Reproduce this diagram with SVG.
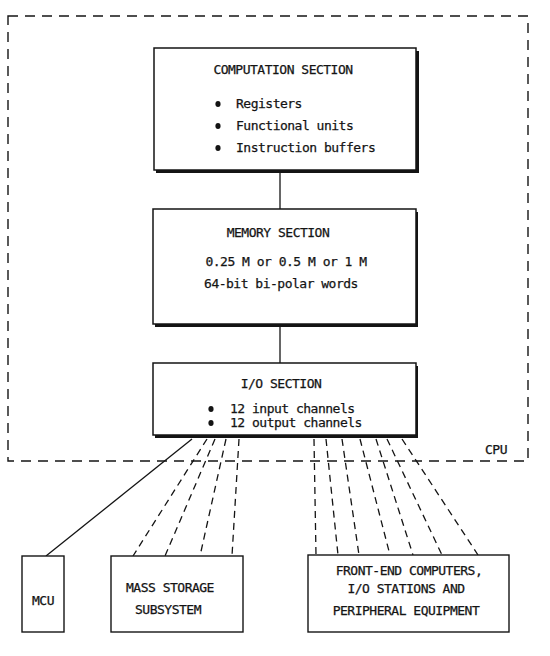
<svg xmlns="http://www.w3.org/2000/svg" width="550" height="656" viewBox="0 0 550 656">
<style>
  .bg { fill: #ffffff; }
  .shadow { fill: #141414; }
  .box { fill: #ffffff; stroke: #141414; stroke-width: 1.5; }
  .plain { fill: #ffffff; stroke: #141414; stroke-width: 1.4; }
  .cpu { fill: none; stroke: #141414; stroke-width: 1.4; stroke-dasharray: 10 7; }
  .solid { stroke: #141414; stroke-width: 1.3; fill: none; }
  .dash { stroke: #141414; stroke-width: 1.3; fill: none; stroke-dasharray: 7 5; }
  .t { font-family: "DejaVu Sans Mono", "Liberation Mono", monospace; font-size: 13px; letter-spacing: -0.5px; fill: #141414; stroke: #141414; stroke-width: 0.25; }
  .c { text-anchor: middle; }
  .dot { fill: #141414; }
</style>
<rect class="bg" x="0" y="0" width="550" height="656"/>

<g id="cpu-boundary">
  <path class="cpu" d="M8,16 L528,16 L528,461 L8,461 Z"/>
  <text class="t c" x="496" y="454">CPU</text>
</g>

<g id="connectors">
  <line class="solid" x1="280" y1="173" x2="280" y2="209"/>
  <line class="solid" x1="280" y1="327" x2="280" y2="363"/>
  <line class="solid" x1="192" y1="439" x2="46" y2="556"/>
  <line class="dash" x1="207" y1="439" x2="133" y2="556"/>
  <line class="dash" x1="215" y1="439" x2="165" y2="556"/>
  <line class="dash" x1="226" y1="439" x2="200" y2="556"/>
  <line class="dash" x1="239" y1="439" x2="232" y2="556"/>
  <line class="dash" x1="314" y1="439" x2="316" y2="555"/>
  <line class="dash" x1="326" y1="439" x2="338" y2="555"/>
  <line class="dash" x1="342" y1="439" x2="359" y2="555"/>
  <line class="dash" x1="360" y1="439" x2="390" y2="555"/>
  <line class="dash" x1="376" y1="439" x2="413" y2="555"/>
  <line class="dash" x1="387" y1="439" x2="442" y2="555"/>
  <line class="dash" x1="402" y1="439" x2="478" y2="555"/>
</g>

<g id="computation-section">
  <rect class="shadow" x="156" y="51" width="263" height="122"/>
  <rect class="box" x="154" y="48" width="262" height="122"/>
  <text class="t c" x="283" y="74">COMPUTATION SECTION</text>
  <ellipse class="dot" cx="218" cy="104" rx="2.6" ry="3"/>
  <ellipse class="dot" cx="218" cy="126" rx="2.6" ry="3"/>
  <ellipse class="dot" cx="218" cy="148" rx="2.6" ry="3"/>
  <text class="t" x="236" y="108">Registers</text>
  <text class="t" x="236" y="130">Functional units</text>
  <text class="t" x="236" y="152">Instruction buffers</text>
</g>

<g id="memory-section">
  <rect class="shadow" x="155" y="212" width="263" height="115"/>
  <rect class="box" x="153" y="209" width="263" height="115"/>
  <text class="t c" x="278" y="237">MEMORY SECTION</text>
  <text class="t c" x="286" y="266">0.25 M or 0.5 M or 1 M</text>
  <text class="t c" x="281" y="288">64-bit bi-polar words</text>
</g>

<g id="io-section">
  <rect class="shadow" x="155" y="366" width="263" height="72"/>
  <rect class="box" x="153" y="363" width="263" height="72"/>
  <text class="t c" x="281" y="388">I/O SECTION</text>
  <ellipse class="dot" cx="211" cy="409" rx="2.6" ry="3"/>
  <ellipse class="dot" cx="211" cy="423" rx="2.6" ry="3"/>
  <text class="t" x="230" y="413">12 input channels</text>
  <text class="t" x="230" y="427">12 output channels</text>
</g>

<g id="mcu">
  <rect class="plain" x="22" y="556" width="42" height="76"/>
  <text class="t c" x="43" y="605">MCU</text>
</g>

<g id="mass-storage">
  <rect class="plain" x="111" y="556" width="132" height="76"/>
  <text class="t c" x="170" y="592">MASS STORAGE</text>
  <text class="t c" x="168" y="614">SUBSYSTEM</text>
</g>

<g id="front-end">
  <rect class="plain" x="308" y="555" width="201" height="77"/>
  <text class="t c" x="409" y="575">FRONT-END COMPUTERS,</text>
  <text class="t c" x="406" y="593">I/O STATIONS AND</text>
  <text class="t c" x="406" y="615">PERIPHERAL EQUIPMENT</text>
</g>
</svg>
